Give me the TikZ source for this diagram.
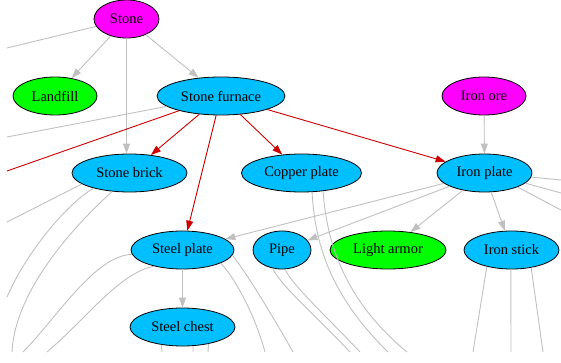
\documentclass[tikz,border=0pt]{standalone}
\usepackage{fontspec}
\setmainfont{Liberation Serif}
\usetikzlibrary{shapes.geometric,arrows.meta}
\tikzset{>={Triangle[length=10pt,width=7pt]}}
\definecolor{rawcol}{HTML}{FF00FF}
\definecolor{endcol}{HTML}{00FF00}
\definecolor{midcol}{HTML}{00BFFF}
\definecolor{linkgrey}{HTML}{C0C0C0}
\definecolor{linkred}{HTML}{CC0000}
\tikzset{
  item/.style={ellipse,draw=black,line width=0.8pt,minimum height=38pt,
    inner sep=0pt,font=\fontsize{14.5}{16}\selectfont},
  raw/.style={item,fill=rawcol},
  final/.style={item,fill=endcol},
  mid/.style={item,fill=midcol},
  link/.style={draw=linkgrey,line width=0.9pt},
  hot/.style={draw=linkred,line width=0.9pt}
}

\begin{document}
\begin{tikzpicture}[x=1pt,y=-1pt]
  \useasboundingbox (0,0) rectangle (561,363);
  % nodes
  \node[raw,minimum width=65pt] (stone) at (126.5,19) {Stone};
  \node[final,minimum width=84pt] (landfill) at (55,96) {Landfill};
  \node[mid,minimum width=128pt] (furnace) at (221,96) {Stone furnace};
  \node[raw,minimum width=84pt] (ironore) at (484,96) {Iron ore};
  \node[mid,minimum width=115pt] (brick) at (129.5,173) {Stone brick};
  \node[mid,minimum width=120pt] (copper) at (301.5,173) {Copper plate};
  \node[mid,minimum width=95pt] (ironplate) at (484.5,173) {Iron plate};
  \node[mid,minimum width=103pt] (steelplate) at (182.5,250) {Steel plate};
  \node[mid,minimum width=58pt] (pipe) at (282,250) {Pipe};
  \node[final,minimum width=116pt] (armor) at (388,250) {Light armor};
  \node[mid,minimum width=95pt] (ironstick) at (511.5,250) {Iron stick};
  \node[mid,minimum width=105pt] (steelchest) at (182.5,327) {Steel chest};

  % loose ends
  \coordinate (offstone) at (7,48);
  \coordinate (offgrey) at (7,137);
  \coordinate (offred) at (7,171);
  \coordinate (offbricka) at (7,222);
  \coordinate (offbrickb) at (7,297);
  \coordinate (offbrickc) at (12,352);
  \coordinate (offsteela) at (23,352);
  \coordinate (offsteelb) at (47,352);
  \coordinate (offsteelc) at (265,352);
  \coordinate (offsteeld) at (293,352);
  \coordinate (offchesta) at (162,352);
  \coordinate (offchestb) at (193,352);
  \coordinate (offchestc) at (208,352);
  \coordinate (offpipea) at (350,352);
  \coordinate (offpipeb) at (360,352);
  \coordinate (offcoppera) at (388,352);
  \coordinate (offcopperb) at (407,352);
  \coordinate (offsticka) at (473,352);
  \coordinate (offstickb) at (511,352);
  \coordinate (offstickc) at (543,352);
  \coordinate (offplatea) at (561,180);
  \coordinate (offplateb) at (561,193);
  \coordinate (offplatec) at (561,210);

  % stone
  \draw[link,->] (stone) -- (landfill);
  \draw[link,->] (stone) -- (furnace);
  \draw[link,->] (stone) -- (stone |- brick.north);
  \draw[link] (stone) -- (offstone);
  % furnace
  \draw[link] (furnace) -- (offgrey);
  \draw[hot] (furnace) -- (offred);
  \draw[hot,->] (furnace) -- (brick);
  \draw[hot,->] (furnace) -- (steelplate);
  \draw[hot,->] (furnace) -- (copper);
  \draw[hot,->] (furnace) -- (ironplate);
  % iron
  \draw[link,->] (ironore) -- (ironplate);
  \draw[link,->] (ironplate) -- (steelplate);
  \draw[link,->] (ironplate) -- (pipe);
  \draw[link,->] (ironplate) -- (armor);
  \draw[link,->] (ironplate) -- (ironstick);
  \draw[link] (ironplate.-5) -- (offplatea);
  \draw[link] (ironplate.-14) -- (offplateb);
  \draw[link] (ironplate.-23) -- (offplatec);
  \draw[link,->] (steelplate) -- (steelchest);
  % curves running off
  \draw[link] (brick.193) -- (offbricka);
  \draw[link] (brick.203) .. controls (65,205) and (25,255) .. (offbrickb);
  \draw[link] (brick.227) .. controls (75,225) and (15,290) .. (offbrickc);
  \draw[link] (steelplate.185) .. controls (95,255) and (55,320) .. (offsteela);
  \draw[link] (steelplate.210) .. controls (120,272) and (85,320) .. (offsteelb);
  \draw[link] (steelplate.-19) .. controls (235,278) and (255,315) .. (offsteelc);
  \draw[link] (steelplate.-6) .. controls (248,275) and (275,320) .. (offsteeld);
  \draw[link] (steelchest.220) -- (offchesta);
  \draw[link] (steelchest.-61) -- (offchestb);
  \draw[link] (steelchest.-33) -- (offchestc);
  \draw[link] (pipe.-117) .. controls (280,285) and (320,320) .. (offpipea);
  \draw[link] (pipe.-81) .. controls (292,285) and (330,320) .. (offpipeb);
  \draw[link] (copper.-61) .. controls (315,250) and (335,300) .. (offcoppera);
  \draw[link] (copper.-40) .. controls (327,250) and (350,305) .. (offcopperb);
  \draw[link] (ironstick.214) -- (offsticka);
  \draw[link] (ironstick.-92) -- (offstickb);
  \draw[link] (ironstick.-42) -- (offstickc);
\end{tikzpicture}
\end{document}
